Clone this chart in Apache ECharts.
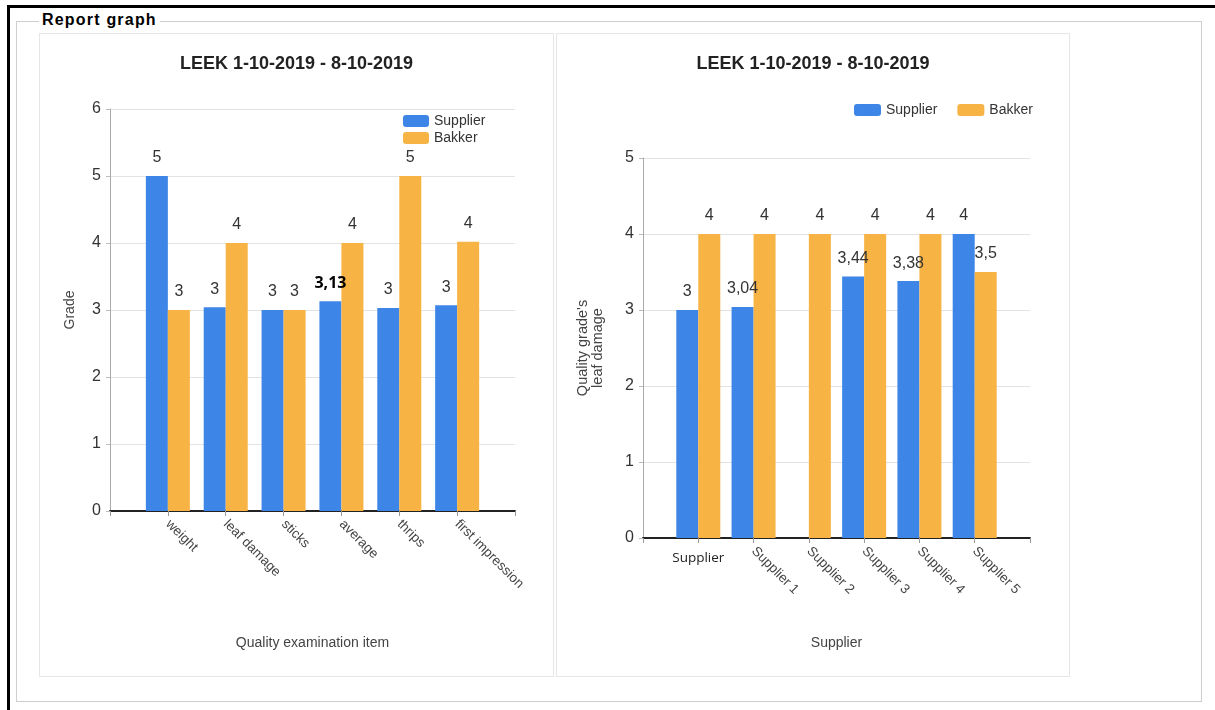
<!DOCTYPE html>
<html>
<head>
<meta charset="utf-8">
<script src="https://cdn.jsdelivr.net/npm/echarts@6/dist/echarts.min.js"></script>
<style>
  html, body { margin: 0; padding: 0; background: #fff; width: 1215px; height: 710px; overflow: hidden; font-family: "Liberation Sans", Arial, sans-serif; }
  #frame { position: absolute; left: 7px; top: 5px; width: 1300px; height: 800px; border-top: 3px solid #000; border-left: 3px solid #000; }
  #fieldset { position: absolute; left: 16px; top: 21px; width: 1184px; height: 679px; border: 1px solid #cfcfcf; }
  #legend { position: absolute; left: 39px; top: 11px; background: #fff; padding: 0 3px; font: bold 16px "Liberation Sans", Arial, sans-serif; letter-spacing: 1.2px; color: #000; }
  .panel { position: absolute; top: 33px; height: 642px; border: 1px solid #e6e6e6; background: #fff; }
  #c1 { left: 39px; width: 513px; }
  #c2 { left: 556px; width: 512px; }
</style>
</head>
<body>
<div id="frame"></div>
<div id="fieldset"></div>
<div id="legend">Report graph</div>
<div id="c1" class="panel"></div>
<div id="c2" class="panel"></div>
<script>
// ---------- Data ----------
const titleText = 'LEEK 1-10-2019 - 8-10-2019';
const seriesNames = ['Supplier', 'Bakker'];

// Left chart
const leftCategories = ['weight', 'leaf damage', 'sticks', 'average', 'thrips', 'first impression'];
const leftSupplier = [5, 3.04, 3, 3.13, 3.03, 3.07];
const leftBakker = [3, 4, 3, 4, 5, 4.02];
const leftSupplierLabels = ['5', '3', '3', '3,13', '3', '3'];
const leftBakkerLabels = ['3', '4', '3', '4', '5', '4'];
const leftYTicks = [0, 1, 2, 3, 4, 5, 6];

// Right chart
const rightCategories = ['Supplier', 'Supplier 1', 'Supplier 2', 'Supplier 3', 'Supplier 4', 'Supplier 5'];
const rightSupplier = [3, 3.04, null, 3.44, 3.38, 4];
const rightBakker = [4, 4, 4, 4, 4, 3.5];
const rightSupplierLabels = ['3', '3,04', '', '3,44', '3,38', '4'];
const rightBakkerLabels = ['4', '4', '4', '4', '4', '3,5'];
const rightYTicks = [0, 1, 2, 3, 4, 5];

// ---------- Styles ----------
const BLUE = '#3d85e6';
const ORANGE = '#f7b343';
const FONT = '"Liberation Sans", Arial, sans-serif';

function pad(arr) { return [null].concat(arr).concat([null]); }
function padCats(arr) { return [''].concat(arr).concat(['']); }

function barSeries(name, values, labels, color, specialIdx) {
  return {
    name: name,
    type: 'bar',
    barWidth: 22,
    barGap: '0%',
    itemStyle: { color: color },
    data: pad(values).map((v, i) => {
      const item = { value: v };
      if (specialIdx !== undefined && i - 1 === specialIdx) {
        item.label = { fontFamily: '"Open Sans", sans-serif', fontWeight: 'bold', color: '#000', fontSize: 16 };
      }
      return item;
    }),
    label: {
      show: true,
      position: 'top',
      distance: 10,
      fontSize: 16,
      color: '#333',
      fontFamily: FONT,
      formatter: p => (p.value == null ? '' : labels[p.dataIndex - 1])
    }
  };
}

function yAxisBase(ticks, name, nameGap, nameSize) {
  return {
    type: 'value',
    min: ticks[0],
    max: ticks[ticks.length - 1],
    interval: ticks[1] - ticks[0],
    name: name,
    nameLocation: 'middle',
    nameGap: nameGap,
    nameTextStyle: { fontSize: nameSize, color: '#444', fontFamily: FONT, lineHeight: nameSize + 1 },
    axisLine: { show: true, lineStyle: { color: '#aaa', width: 1 } },
    axisTick: { show: true, length: 4, lineStyle: { color: '#bbb' } },
    axisLabel: { fontSize: 16, color: '#333', margin: 9, fontFamily: FONT },
    splitLine: { lineStyle: { color: '#e2e2e2' } }
  };
}

function xAxisBase(cats, name, nameGap, hideIdx) {
  return {
    type: 'category',
    data: padCats(cats),
    boundaryGap: false,
    name: name,
    nameLocation: 'middle',
    nameGap: nameGap,
    nameTextStyle: { fontSize: 14, color: '#444', fontFamily: FONT },
    axisLine: { show: true, lineStyle: { color: '#222', width: 2 } },
    axisTick: { show: true, length: 5, interval: 0, lineStyle: { color: '#999' } },
    axisLabel: {
      interval: 0, rotate: -45, fontSize: 13.5, color: '#444', margin: 11, fontFamily: FONT,
      formatter: (v, i) => (hideIdx !== undefined && i === hideIdx ? '' : v)
    },
    splitLine: { show: false }
  };
}

// ---------- Left chart ----------
const c1 = echarts.init(document.getElementById('c1'), null, { renderer: 'canvas' });
c1.setOption({
  animation: false,
  title: { text: titleText, left: 'center', top: 16, textStyle: { fontSize: 18, fontWeight: 'bold', color: '#222', fontFamily: FONT } },
  legend: {
    orient: 'vertical', left: 358, top: 75, itemWidth: 26, itemHeight: 12, itemGap: 3,
    textStyle: { fontSize: 14, color: '#333', fontFamily: FONT },
    data: seriesNames
  },
  grid: { left: 70, right: 38, top: 75, bottom: 165 },
  xAxis: xAxisBase(leftCategories, 'Quality examination item', 125),
  yAxis: yAxisBase(leftYTicks, 'Grade', 32, 14),
  series: [
    barSeries(seriesNames[0], leftSupplier, leftSupplierLabels, BLUE, 3),
    barSeries(seriesNames[1], leftBakker, leftBakkerLabels, ORANGE)
  ]
});

// ---------- Right chart ----------
const c2 = echarts.init(document.getElementById('c2'), null, { renderer: 'canvas' });
const x2 = xAxisBase(rightCategories, 'Supplier', 98, 1);
const x2b = {
  type: 'category',
  data: padCats(rightCategories),
  boundaryGap: false,
  position: 'bottom',
  axisLine: { show: false }, axisTick: { show: false }, splitLine: { show: false },
  axisLabel: {
    interval: 0, rotate: 0, fontSize: 13.5, color: '#222', margin: 13, fontFamily: '"Open Sans", sans-serif',
    formatter: (v, i) => (i === 1 ? v : '')
  }
};
c2.setOption({
  animation: false,
  title: { text: titleText, left: 'center', top: 16, textStyle: { fontSize: 18, fontWeight: 'bold', color: '#222', fontFamily: FONT } },
  legend: {
    orient: 'horizontal', left: 292, top: 64, itemWidth: 27, itemHeight: 12, itemGap: 20,
    textStyle: { fontSize: 14, color: '#333', fontFamily: FONT },
    data: seriesNames
  },
  grid: { left: 86, right: 39, top: 124, bottom: 138 },
  xAxis: [x2, x2b],
  yAxis: yAxisBase(rightYTicks, "Quality grade's\nleaf damage", 37, 14.5),
  series: [
    barSeries(seriesNames[0], rightSupplier, rightSupplierLabels, BLUE),
    barSeries(seriesNames[1], rightBakker, rightBakkerLabels, ORANGE)
  ]
});
</script>
</body>
</html>
